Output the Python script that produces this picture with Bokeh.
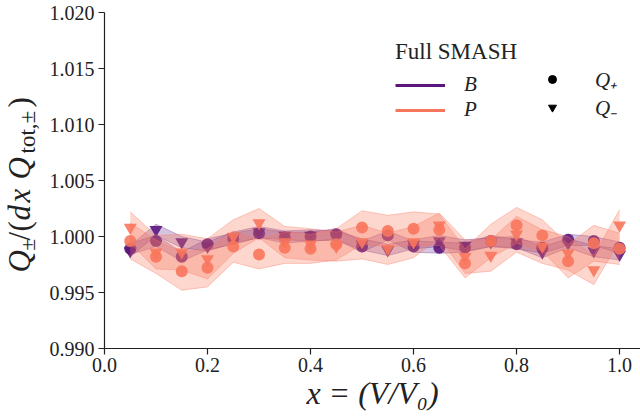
import math
from bokeh.plotting import figure
from bokeh.layouts import row
from bokeh.models import (Range1d, FixedTicker, PrintfTickFormatter, Legend,
                          LegendItem, ColumnDataSource)
from bokeh.core.properties import value
from bokeh.embed import file_html
from bokeh.resources import INLINE

# ---------------- data ----------------
x_vals = [0.05, 0.10, 0.15, 0.20, 0.25, 0.30, 0.35, 0.40, 0.45, 0.50,
          0.55, 0.60, 0.65, 0.70, 0.75, 0.80, 0.85, 0.90, 0.95, 1.00]

b_qplus = [0.9989, 0.9996, 0.9982, 0.9993, 0.9998, 1.0003, 0.9999, 1.0000, 1.0002, 0.9991,
           1.0001, 0.9991, 0.9990, 0.9990, 0.9996, 0.9993, 0.9990, 0.9997, 0.9996, 0.9990]
b_qplus_err = [0.0005, 0.0005, 0.0004, 0.0005, 0.0005, 0.0004, 0.0005, 0.0004, 0.0005, 0.0005,
               0.0004, 0.0005, 0.0005, 0.0004, 0.0005, 0.0004, 0.0005, 0.0005, 0.0004, 0.0005]

b_qminus = [0.9987, 1.0006, 0.9995, 0.9991, 0.9999, 1.0004, 1.0001, 1.0001, 1.0001, 0.9993,
            0.9988, 0.9993, 0.9996, 0.9992, 0.9995, 0.9995, 0.9986, 0.9994, 0.9987, 0.9984]
b_qminus_err = [0.0005, 0.0005, 0.0005, 0.0004, 0.0005, 0.0005, 0.0004, 0.0005, 0.0004, 0.0005,
                0.0005, 0.0004, 0.0005, 0.0005, 0.0004, 0.0005, 0.0005, 0.0004, 0.0005, 0.0005]

p_qplus = [0.9996, 0.9982, 0.9969, 0.9972, 0.9991, 0.9984, 0.9990, 0.9989, 0.9993, 1.0008,
           1.0005, 1.0007, 1.0006, 0.9976, 0.9996, 1.0010, 1.0001, 0.9978, 0.9994, 0.9989]
p_qplus_err = [0.0016, 0.0015, 0.0017, 0.0017, 0.0014, 0.0013, 0.0014, 0.0013, 0.0014, 0.0015,
               0.0014, 0.0015, 0.0014, 0.0013, 0.0015, 0.0016, 0.0014, 0.0015, 0.0016, 0.0014]

p_qminus = [1.0008, 0.9986, 0.9986, 0.9980, 1.0000, 1.0012, 0.9995, 0.9993, 0.9991, 0.9995,
            0.9989, 0.9995, 1.0010, 0.9982, 0.9983, 1.0002, 0.9991, 0.9985, 0.9970, 1.0010]
p_qminus_err = [0.0014, 0.0015, 0.0016, 0.0018, 0.0015, 0.0013, 0.0014, 0.0014, 0.0013, 0.0015,
                0.0014, 0.0014, 0.0011, 0.0015, 0.0014, 0.0016, 0.0015, 0.0015, 0.0013, 0.0014]

x_ticks = [0.0, 0.2, 0.4, 0.6, 0.8, 1.0]
y_ticks = [0.990, 0.995, 1.000, 1.005, 1.010, 1.015, 1.020]

legend_title = "Full SMASH"
line_labels = ["B", "P"]
marker_labels = ["Q\u208a", "Q\u208b"]
x_label = "x = (V/V\u2080)"

PURPLE = "#5a167e"
SALMON = "#f8765c"
INK = "#222222"
SERIF = "Liberation Serif"
NAN = float("nan")

TOP, BOTTOM = 12, 68      # frame borders shared by both panels
STRIP_W = 46              # width of the y-label strip

# ---------------- main figure ----------------
p = figure(width=640 - STRIP_W, height=416, output_backend="svg", toolbar_location=None,
           x_range=Range1d(0, 1.0406), y_range=Range1d(0.990, 1.020),
           min_border_left=102 - STRIP_W, min_border_right=0,
           min_border_top=TOP, min_border_bottom=BOTTOM)
p.outline_line_color = None
p.grid.visible = False

p.xaxis.ticker = FixedTicker(ticks=x_ticks)
p.xaxis.formatter = PrintfTickFormatter(format="%.1f")
p.yaxis.ticker = FixedTicker(ticks=y_ticks)
p.yaxis.formatter = PrintfTickFormatter(format="%.3f")
for ax in (p.xaxis, p.yaxis):
    ax.major_label_text_font = SERIF
    ax.major_label_text_font_size = "20px"
    ax.major_label_text_color = INK
    ax.axis_line_color = INK
    ax.axis_line_width = 1.2
    ax.major_tick_line_color = INK
    ax.major_tick_line_width = 1.2
    ax.major_tick_in = 0
    ax.major_tick_out = 6
    ax.minor_tick_line_color = None
p.xaxis.major_label_standoff = 3
p.yaxis.major_label_standoff = 4
p.xaxis.axis_label = x_label
p.xaxis.axis_label_text_font = SERIF
p.xaxis.axis_label_text_font_size = "32px"
p.xaxis.axis_label_text_font_style = "italic"
p.xaxis.axis_label_text_color = INK
p.xaxis.axis_label_standoff = 0


def series(y, err, color, marker, size, alpha):
    lo = [a - b for a, b in zip(y, err)]
    hi = [a + b for a, b in zip(y, err)]
    src = ColumnDataSource(dict(x=x_vals, y=y, lo=lo, hi=hi))
    p.varea(x="x", y1="lo", y2="hi", source=src, fill_color=color, fill_alpha=alpha)
    p.line("x", "lo", source=src, line_color=color, line_alpha=alpha + 0.05, line_width=1)
    p.line("x", "hi", source=src, line_color=color, line_alpha=alpha + 0.05, line_width=1)
    p.scatter("x", "y", source=src, marker=marker, size=size, fill_color=color,
              line_color=None, fill_alpha=0.9)


series(b_qplus, b_qplus_err, PURPLE, "circle", 12, 0.25)
series(b_qminus, b_qminus_err, PURPLE, "inverted_triangle", 13, 0.25)
series(p_qplus, p_qplus_err, SALMON, "circle", 12, 0.3)
series(p_qminus, p_qminus_err, SALMON, "inverted_triangle", 13, 0.3)

# legend proxies (NaN data: nothing drawn in the plot area)
lb = p.line(x=[NAN], y=[NAN], line_color=PURPLE, line_width=3)
lp = p.line(x=[NAN], y=[NAN], line_color=SALMON, line_width=3)
mc = p.scatter(x=[NAN], y=[NAN], marker="circle", size=11, color="black")
mt = p.scatter(x=[NAN], y=[NAN], marker="inverted_triangle", size=12, color="black")

common = dict(border_line_color=None, background_fill_alpha=0, padding=0, margin=0,
              glyph_height=20, label_height=20, spacing=0,
              label_text_font=SERIF, label_text_font_size="21px",
              label_text_font_style="italic", label_text_color=INK)

leg1 = Legend(items=[LegendItem(label=line_labels[0], renderers=[lb]),
                     LegendItem(label=line_labels[1], renderers=[lp])],
              location=(291, 226), title=legend_title, title_text_font=SERIF,
              title_text_font_size="23px", title_text_font_style="normal",
              title_text_color=INK, title_standoff=7, glyph_width=50,
              label_standoff=19, **common)
leg2 = Legend(items=[LegendItem(label=marker_labels[0], renderers=[mc]),
                     LegendItem(label=marker_labels[1], renderers=[mt])],
              location=(438, 227), glyph_width=20, label_standoff=33, **common)
p.add_layout(leg1)
p.add_layout(leg2)

# ---------------- y label strip: Q_± / (dx Q_{tot,±}) ----------------
fy = figure(width=STRIP_W, height=416, output_backend="svg", toolbar_location=None,
            x_range=Range1d(0, STRIP_W), y_range=Range1d(0, 416 - TOP - BOTTOM),
            min_border_left=0, min_border_right=0,
            min_border_top=TOP, min_border_bottom=BOTTOM,
            x_axis_location=None, y_axis_location=None)
fy.outline_line_color = None
fy.grid.visible = False

MAIN_X, SUB_X = 19, 27
for txt, along, size, style, sub in [
        ("Q", 76, 31, "italic", False), ("\u00b1", 98, 21, "normal", True),
        ("/", 108, 31, "normal", False), ("(", 117, 31, "normal", False),
        ("d", 128, 31, "italic", False), ("x", 146, 31, "italic", False),
        ("Q", 169, 31, "italic", False), ("tot,\u00b1", 195, 23, "normal", True),
        (")", 241, 31, "normal", False)]:
    fy.text(x=[SUB_X if sub else MAIN_X], y=[along], text=[txt], angle=math.pi / 2,
            text_font=value(SERIF), text_font_size=f"{size}px", text_font_style=style,
            text_color=INK, text_baseline="middle", text_align="left")

layout = row(fy, p)
open("out.html", "w").write(file_html(layout, INLINE))
